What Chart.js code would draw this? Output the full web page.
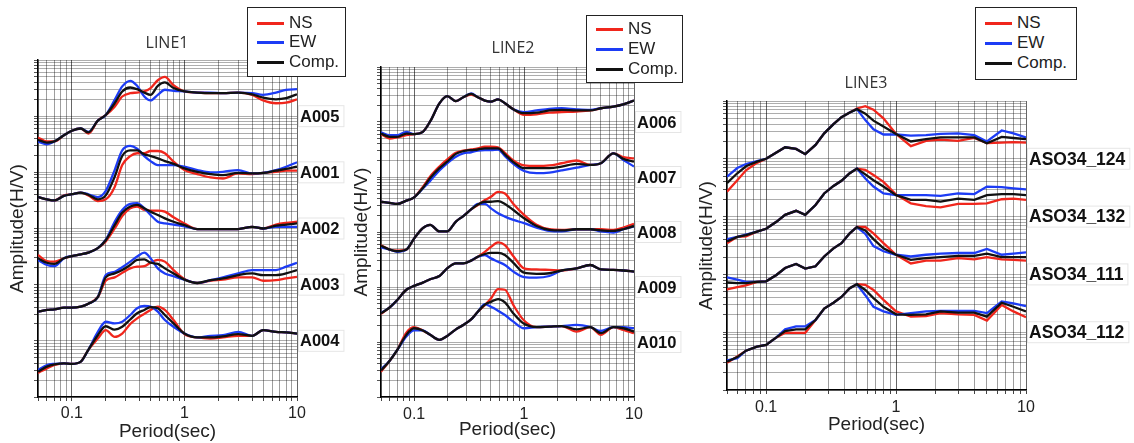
<!DOCTYPE html>
<html>
<head>
<meta charset="utf-8">
<script src="https://cdn.jsdelivr.net/npm/chart.js@4.4.1/dist/chart.umd.min.js"></script>
<style>
  body { margin: 0; background: #fff; width: 1134px; height: 443px; position: relative; overflow: hidden; font-family: "Liberation Sans", Arial, sans-serif; }
  canvas { position: absolute; top: 0; }
  .title { position: absolute; font-family: "Open Sans", sans-serif; font-size: 16px; color: #333; transform: translate(-50%, -50%); white-space: nowrap; }
  .legend { position: absolute; background: #fff; border: 1.5px solid #222; box-sizing: border-box; z-index: 5; }
  .legend .row { position: absolute; left: 0; height: 20px; width: 100%; }
  .legend .ln { position: absolute; left: 9px; top: 9px; width: 27px; height: 3px; }
  .legend .tx { position: absolute; left: 41px; top: 0; font-size: 17px; line-height: 20px; color: #222; }
</style>
</head>
<body>
<canvas id="c1" width="345" height="443" style="left:0px"></canvas>
<canvas id="c2" width="339" height="443" style="left:345px"></canvas>
<canvas id="c3" width="444" height="443" style="left:690px"></canvas>

<div class="title" style="left:167px;top:42px">LINE1</div>
<div class="title" style="left:513px;top:47px">LINE2</div>
<div class="title" style="left:866px;top:82px">LINE3</div>

<div class="legend" style="left:247px;top:7px;width:99px;height:70px">
  <div class="row" style="top:5px"><div class="ln" style="background:#f0261c"></div><div class="tx">NS</div></div>
  <div class="row" style="top:24px"><div class="ln" style="background:#1d3cf5"></div><div class="tx">EW</div></div>
  <div class="row" style="top:44px"><div class="ln" style="background:#111"></div><div class="tx">Comp.</div></div>
</div>
<div class="legend" style="left:586px;top:15px;width:97px;height:68px">
  <div class="row" style="top:3px"><div class="ln" style="background:#f0261c"></div><div class="tx">NS</div></div>
  <div class="row" style="top:23px"><div class="ln" style="background:#1d3cf5"></div><div class="tx">EW</div></div>
  <div class="row" style="top:43px"><div class="ln" style="background:#111"></div><div class="tx">Comp.</div></div>
</div>
<div class="legend" style="left:975px;top:7px;width:102px;height:73px">
  <div class="row" style="top:5px"><div class="ln" style="background:#f0261c"></div><div class="tx">NS</div></div>
  <div class="row" style="top:25px"><div class="ln" style="background:#1d3cf5"></div><div class="tx">EW</div></div>
  <div class="row" style="top:45px"><div class="ln" style="background:#111"></div><div class="tx">Comp.</div></div>
</div>

<script>
const periods = [0.05, 0.06, 0.07, 0.085, 0.1, 0.12, 0.14, 0.17, 0.2, 0.24, 0.28, 0.33, 0.38, 0.44, 0.5, 0.58, 0.67, 0.8, 1, 1.3, 1.7, 2.2, 3, 4, 5, 6.5, 8, 10];

// x grid lines and the ones that get a label
const xGrid = [0.05, 0.06, 0.07, 0.08, 0.09, 0.1, 0.2, 0.3, 0.4, 0.5, 0.6, 0.7, 0.8, 0.9, 1, 2, 3, 4, 5, 6, 7, 8, 9, 10];
const xLabelValues = [0.1, 1, 10];

// log10(H/V) per station, stacked by one decade each

// LINE1
const a005Ns = [0.62,0.55,0.55,0.66,0.74,0.78,0.69,0.92,1.02,1.17,1.35,1.41,1.42,1.44,1.50,1.64,1.70,1.55,1.44,1.42,1.41,1.41,1.42,1.38,1.28,1.23,1.24,1.30];
const a005Ew = [0.55,0.50,0.55,0.66,0.74,0.78,0.72,0.92,1.02,1.29,1.53,1.63,1.54,1.35,1.28,1.38,1.47,1.45,1.44,1.42,1.42,1.41,1.42,1.41,1.38,1.42,1.47,1.48];
const a005Comp = [0.58,0.53,0.55,0.66,0.74,0.78,0.71,0.92,1.02,1.23,1.44,1.51,1.48,1.42,1.38,1.54,1.60,1.50,1.44,1.42,1.41,1.41,1.42,1.39,1.33,1.30,1.32,1.39];

const a001Ns = [0.56,0.52,0.50,0.59,0.61,0.64,0.59,0.49,0.52,0.74,1.13,1.29,1.34,1.34,1.38,1.38,1.34,1.19,1.04,0.97,0.91,0.89,0.98,0.97,0.99,1.01,1.03,1.03];
const a001Ew = [0.56,0.52,0.50,0.58,0.61,0.64,0.61,0.56,0.67,1.04,1.39,1.47,1.42,1.29,1.20,1.13,1.13,1.13,1.10,1.04,1.00,1.01,1.04,0.98,0.99,1.04,1.10,1.18];
const a001Comp = [0.56,0.52,0.50,0.58,0.61,0.64,0.60,0.52,0.59,0.92,1.29,1.39,1.39,1.32,1.29,1.25,1.20,1.15,1.07,1.01,0.97,0.95,0.99,0.98,0.99,1.03,1.06,1.10];

const a002Ns = [0.53,0.42,0.41,0.47,0.51,0.54,0.57,0.65,0.77,1.00,1.22,1.36,1.39,1.33,1.32,1.32,1.30,1.20,1.09,0.99,0.99,0.99,0.99,1.03,1.00,1.07,1.10,1.12];
const a002Ew = [0.44,0.35,0.33,0.47,0.51,0.54,0.57,0.65,0.80,1.12,1.33,1.44,1.45,1.36,1.24,1.12,1.09,1.07,1.04,0.99,0.99,0.99,0.99,1.03,1.00,1.03,1.03,1.03];
const a002Comp = [0.47,0.39,0.37,0.47,0.51,0.54,0.57,0.65,0.79,1.06,1.28,1.39,1.42,1.36,1.30,1.24,1.18,1.12,1.06,0.99,0.99,0.99,0.99,1.03,1.00,1.05,1.07,1.09];

const a003Ns = [0.52,0.55,0.56,0.59,0.59,0.61,0.66,0.78,1.07,1.13,1.21,1.29,1.32,1.33,1.39,1.44,1.41,1.26,1.10,1.03,1.07,1.09,1.13,1.13,1.07,1.08,1.11,1.14];
const a003Ew = [0.52,0.55,0.56,0.59,0.59,0.61,0.66,0.78,1.17,1.23,1.31,1.41,1.50,1.57,1.47,1.29,1.20,1.15,1.09,1.03,1.08,1.13,1.20,1.26,1.26,1.26,1.32,1.39];
const a003Comp = [0.52,0.55,0.56,0.59,0.59,0.61,0.66,0.78,1.13,1.20,1.26,1.35,1.44,1.45,1.39,1.37,1.29,1.20,1.09,1.03,1.08,1.11,1.17,1.20,1.17,1.17,1.20,1.26];

const a004Ns = [0.43,0.51,0.57,0.60,0.59,0.63,0.84,1.04,1.19,1.07,1.13,1.30,1.40,1.48,1.55,1.61,1.55,1.37,1.12,1.06,1.04,1.06,1.09,1.09,1.19,1.16,1.15,1.13];
const a004Ew = [0.48,0.57,0.59,0.60,0.59,0.63,0.84,1.16,1.34,1.31,1.34,1.46,1.58,1.62,1.61,1.52,1.37,1.25,1.13,1.06,1.09,1.10,1.16,1.09,1.19,1.16,1.15,1.13];
const a004Comp = [0.45,0.54,0.58,0.60,0.59,0.63,0.84,1.10,1.26,1.20,1.25,1.38,1.49,1.55,1.60,1.58,1.46,1.31,1.13,1.06,1.06,1.08,1.12,1.09,1.19,1.16,1.15,1.13];

// LINE2
const a006Ns = [0.78,0.70,0.72,0.76,0.78,0.82,1.01,1.34,1.47,1.38,1.45,1.50,1.45,1.39,1.37,1.41,1.34,1.23,1.13,1.14,1.17,1.18,1.19,1.21,1.25,1.28,1.32,1.39];
const a006Ew = [0.81,0.76,0.76,0.82,0.78,0.82,1.01,1.34,1.47,1.38,1.45,1.52,1.45,1.39,1.37,1.41,1.34,1.23,1.18,1.21,1.24,1.25,1.23,1.22,1.25,1.28,1.32,1.39];
const a006Comp = [0.79,0.73,0.73,0.79,0.78,0.82,1.01,1.34,1.47,1.38,1.45,1.51,1.45,1.39,1.37,1.41,1.34,1.23,1.16,1.17,1.21,1.22,1.21,1.21,1.25,1.28,1.32,1.39];

const a007Ns = [0.55,0.53,0.51,0.57,0.63,0.82,1.01,1.19,1.32,1.44,1.48,1.50,1.52,1.55,1.55,1.54,1.44,1.30,1.21,1.20,1.21,1.25,1.30,1.22,1.25,1.43,1.36,1.34];
const a007Ew = [0.55,0.53,0.51,0.57,0.63,0.79,0.93,1.12,1.25,1.37,1.43,1.45,1.48,1.49,1.49,1.50,1.38,1.24,1.11,1.07,1.08,1.12,1.17,1.22,1.25,1.43,1.31,1.19];
const a007Comp = [0.55,0.53,0.51,0.57,0.63,0.80,0.98,1.16,1.28,1.42,1.47,1.49,1.50,1.52,1.52,1.52,1.41,1.27,1.16,1.16,1.16,1.19,1.24,1.22,1.25,1.43,1.33,1.28];

const a008Ns = [0.76,0.68,0.66,0.68,0.88,1.07,1.13,1.01,1.01,1.19,1.29,1.41,1.49,1.58,1.64,1.73,1.70,1.51,1.31,1.13,1.05,1.04,1.05,1.05,1.05,1.04,1.08,1.15];
const a008Ew = [0.72,0.68,0.64,0.68,0.88,1.07,1.13,1.01,1.01,1.19,1.29,1.41,1.51,1.51,1.43,1.34,1.28,1.22,1.16,1.08,1.02,1.01,1.05,1.05,1.01,0.99,1.05,1.10];
const a008Comp = [0.75,0.68,0.65,0.68,0.88,1.07,1.13,1.01,1.01,1.19,1.29,1.41,1.50,1.55,1.55,1.56,1.51,1.40,1.25,1.11,1.04,1.03,1.05,1.05,1.03,1.02,1.05,1.11];

const a009Ns = [0.51,0.63,0.76,0.95,1.02,1.08,1.14,1.20,1.34,1.43,1.43,1.48,1.55,1.64,1.73,1.81,1.76,1.56,1.34,1.32,1.31,1.30,1.34,1.40,1.32,1.31,1.30,1.28];
const a009Ew = [0.53,0.63,0.76,0.95,1.02,1.08,1.14,1.20,1.34,1.43,1.43,1.48,1.55,1.58,1.52,1.46,1.40,1.28,1.18,1.17,1.20,1.30,1.34,1.40,1.32,1.31,1.30,1.28];
const a009Comp = [0.52,0.63,0.76,0.95,1.02,1.08,1.14,1.20,1.34,1.43,1.43,1.48,1.55,1.60,1.62,1.62,1.58,1.44,1.26,1.24,1.25,1.30,1.34,1.40,1.32,1.31,1.30,1.28];

const a010Ns = [0.46,0.66,0.85,1.17,1.27,1.21,1.13,1.04,1.11,1.23,1.31,1.41,1.55,1.67,1.79,1.96,1.95,1.67,1.39,1.27,1.28,1.29,1.19,1.27,1.13,1.27,1.22,1.16];
const a010Ew = [0.50,0.66,0.85,1.10,1.21,1.21,1.13,1.04,1.11,1.23,1.31,1.41,1.55,1.69,1.64,1.57,1.49,1.37,1.25,1.27,1.28,1.29,1.31,1.27,1.20,1.27,1.27,1.25];
const a010Comp = [0.48,0.66,0.85,1.13,1.25,1.21,1.13,1.04,1.11,1.23,1.31,1.41,1.55,1.68,1.73,1.78,1.72,1.52,1.33,1.27,1.28,1.29,1.23,1.27,1.16,1.27,1.25,1.19];

// LINE3
const aso124Ns = [0.43,0.63,0.80,0.93,1.00,1.11,1.20,1.17,1.08,1.24,1.44,1.60,1.72,1.80,1.87,1.91,1.85,1.70,1.43,1.22,1.31,1.33,1.31,1.36,1.27,1.28,1.29,1.28];
const aso124Ew = [0.69,0.84,0.91,0.96,1.00,1.11,1.20,1.17,1.08,1.24,1.44,1.60,1.72,1.80,1.86,1.67,1.51,1.42,1.42,1.40,1.41,1.43,1.44,1.41,1.30,1.49,1.44,1.37];
const aso124Comp = [0.58,0.75,0.87,0.95,1.00,1.11,1.20,1.17,1.08,1.24,1.44,1.60,1.72,1.80,1.86,1.78,1.66,1.56,1.43,1.30,1.34,1.37,1.37,1.37,1.27,1.38,1.36,1.34];

const aso132Ns = [0.54,0.65,0.66,0.74,0.79,0.91,1.03,1.10,1.03,1.20,1.40,1.53,1.62,1.75,1.83,1.81,1.72,1.60,1.38,1.23,1.18,1.16,1.22,1.22,1.23,1.30,1.31,1.29];
const aso132Ew = [0.61,0.65,0.69,0.74,0.79,0.91,1.03,1.10,1.03,1.20,1.40,1.53,1.62,1.75,1.83,1.66,1.52,1.40,1.37,1.37,1.37,1.36,1.40,1.39,1.52,1.51,1.49,1.47];
const aso132Comp = [0.57,0.65,0.68,0.74,0.79,0.91,1.03,1.10,1.03,1.20,1.40,1.53,1.62,1.75,1.83,1.73,1.63,1.52,1.37,1.29,1.29,1.26,1.31,1.29,1.37,1.39,1.39,1.37];

const aso111Ns = [0.74,0.78,0.81,0.87,0.88,0.99,1.11,1.18,1.10,1.14,1.31,1.45,1.54,1.71,1.82,1.82,1.71,1.54,1.34,1.19,1.24,1.24,1.28,1.26,1.30,1.26,1.25,1.24];
const aso111Ew = [0.95,0.91,0.87,0.87,0.88,0.99,1.11,1.18,1.10,1.14,1.31,1.45,1.54,1.71,1.82,1.70,1.49,1.40,1.34,1.31,1.34,1.36,1.37,1.37,1.44,1.34,1.36,1.38];
const aso111Comp = [0.86,0.85,0.85,0.87,0.88,0.99,1.11,1.18,1.10,1.14,1.31,1.45,1.54,1.71,1.82,1.76,1.61,1.45,1.34,1.25,1.28,1.30,1.32,1.32,1.36,1.30,1.30,1.30];

const aso112Ns = [0.47,0.58,0.68,0.75,0.78,0.91,0.99,0.99,0.99,1.21,1.41,1.51,1.61,1.76,1.83,1.82,1.73,1.56,1.36,1.27,1.28,1.33,1.31,1.30,1.20,1.47,1.36,1.26];
const aso112Ew = [0.51,0.55,0.68,0.75,0.78,0.91,1.05,1.10,1.10,1.21,1.41,1.51,1.61,1.76,1.83,1.64,1.44,1.36,1.30,1.33,1.36,1.37,1.37,1.37,1.33,1.53,1.50,1.45];
const aso112Comp = [0.49,0.57,0.68,0.75,0.78,0.91,1.02,1.05,1.05,1.21,1.41,1.51,1.61,1.76,1.83,1.73,1.59,1.44,1.31,1.30,1.31,1.36,1.34,1.34,1.27,1.51,1.44,1.36];

// station names and decade shift (top to bottom)
const line1Names = ['A005', 'A001', 'A002', 'A003', 'A004'];
const line1Shift = [4, 3, 2, 1, 0];
const line2Names = ['A006', 'A007', 'A008', 'A009', 'A010'];
const line2Shift = [4, 3, 2, 1, 0];
const line3Names = ['ASO34_124', 'ASO34_132', 'ASO34_111', 'ASO34_112'];
const line3Shift = [3, 2, 1, 0];

const colors = { ns: '#f0261c', ew: '#1d3cf5', comp: '#111111' };

function buildDatasets(names, shifts, ns, ew, comp) {
  const sets = [];
  names.forEach((name, k) => {
    const parts = [
      [ns[k], 'NS', colors.ns, 2],
      [ew[k], 'EW', colors.ew, 1],
      [comp[k], 'Comp.', colors.comp, 0]
    ];
    parts.forEach(([arr, comp, color, order]) => {
      sets.push({
        label: name + ' ' + comp,
        data: periods.map((p, i) => ({ x: p, y: shifts[k] + arr[i] })),
        borderColor: color,
        backgroundColor: color,
        order: order
      });
    });
  });
  return sets;
}

// draws the station names at the right end of each curve
const stationLabels = {
  id: 'stationLabels',
  afterDraw(chart, args, opts) {
    const { ctx, chartArea, scales } = chart;
    ctx.save();
    ctx.font = 'bold ' + opts.size + 'px "Liberation Sans", Arial, sans-serif';
    ctx.textBaseline = 'middle';
    opts.names.forEach((name, i) => {
      const py = scales.y.getPixelForValue(opts.shifts[i] + 1);
      const w = ctx.measureText(name).width + 6;
      ctx.fillStyle = '#fff';
      ctx.fillRect(chartArea.right + 1, py - 11, w, 22);
      ctx.strokeStyle = 'rgba(0,0,0,0.1)';
      ctx.lineWidth = 1;
      ctx.strokeRect(chartArea.right + 1.5, py - 10.5, w, 21);
      ctx.fillStyle = '#111';
      ctx.fillText(name, chartArea.right + 3, py + 1);
    });
    ctx.restore();
  }
};

function isDecade(v) {
  const l = Math.log10(v);
  return Math.abs(l - Math.round(l)) < 1e-6;
}

function makeChart(id, cfg) {
  const tickFont = { family: '"Liberation Sans", Arial, sans-serif', size: 16 };
  const titleFont = { family: '"Liberation Sans", Arial, sans-serif', size: 19 };
  return new Chart(document.getElementById(id), {
    type: 'line',
    data: { datasets: buildDatasets(cfg.names, cfg.shifts, cfg.ns, cfg.ew, cfg.comp) },
    options: {
      responsive: false,
      animation: false,
      events: [],
      devicePixelRatio: 1,
      layout: { padding: { left: 0, top: cfg.top, right: cfg.right, bottom: 0 } },
      elements: {
        point: { radius: 0 },
        line: { borderWidth: 2.3, tension: cfg.tension, cubicInterpolationMode: cfg.mode, fill: false }
      },
      plugins: {
        legend: { display: false },
        tooltip: { enabled: false },
        stationLabels: { names: cfg.names, shifts: cfg.shifts, size: cfg.labelSize }
      },
      scales: {
        x: {
          type: 'logarithmic',
          min: 0.05,
          max: 10,
          afterBuildTicks: s => { s.ticks = xGrid.map(v => ({ value: v })); },
          afterFit: s => { s.height = cfg.xh; },
          grid: {
            color: c => (c.tick && isDecade(c.tick.value)) ? 'rgba(0,0,0,0.6)' : 'rgba(0,0,0,0.38)',
            lineWidth: 1,
            drawTicks: true,
            tickLength: 4,
            tickColor: '#444'
          },
          border: { display: true, color: '#000', width: 1.5 },
          ticks: {
            autoSkip: false,
            maxRotation: 0,
            padding: cfg.tickPad,
            color: '#222',
            font: tickFont,
            callback: v => xLabelValues.some(t => Math.abs(t - v) < 1e-9) ? String(v) : ''
          },
          title: { display: true, text: 'Period(sec)', color: '#222', font: titleFont, padding: { top: 0, bottom: cfg.xTitlePad } }
        },
        y: {
          type: 'linear',
          min: 0,
          max: cfg.decades,
          afterBuildTicks: s => {
            const t = [];
            for (let n = 0; n < cfg.decades; n++) {
              for (let m = 1; m < 10; m++) t.push({ value: n + Math.log10(m) });
            }
            t.push({ value: cfg.decades });
            s.ticks = t;
          },
          afterFit: s => { s.width = cfg.yw; },
          grid: { color: 'rgba(0,0,0,0.32)', lineWidth: 1, drawTicks: true, tickLength: 4, tickColor: '#555' },
          border: { display: true, color: '#000', width: 1.5 },
          ticks: { display: false, autoSkip: false },
          title: { display: true, text: 'Amplitude(H/V)', color: '#222', font: titleFont, padding: { top: cfg.yTitlePad, bottom: 0 } }
        }
      }
    },
    plugins: [stationLabels]
  });
}

makeChart('c1', {
  names: line1Names, shifts: line1Shift,
  ns: [a005Ns, a001Ns, a002Ns, a003Ns, a004Ns],
  ew: [a005Ew, a001Ew, a002Ew, a003Ew, a004Ew],
  comp: [a005Comp, a001Comp, a002Comp, a003Comp, a004Comp],
  top: 60, right: 48, yw: 38, xh: 46, decades: 6,
  tickPad: 3.4, xTitlePad: 0, yTitlePad: 6.6, labelSize: 16.5,
  tension: 0.4, mode: 'monotone'
});

makeChart('c2', {
  names: line2Names, shifts: line2Shift,
  ns: [a006Ns, a007Ns, a008Ns, a009Ns, a010Ns],
  ew: [a006Ew, a007Ew, a008Ew, a009Ew, a010Ew],
  comp: [a006Comp, a007Comp, a008Comp, a009Comp, a010Comp],
  top: 67, right: 50, yw: 36, xh: 46, decades: 6,
  tickPad: 4.1, xTitlePad: 1.6, yTitlePad: 5.6, labelSize: 16.5,
  tension: 0.4, mode: 'monotone'
});

makeChart('c3', {
  names: line3Names, shifts: line3Shift,
  ns: [aso124Ns, aso132Ns, aso111Ns, aso112Ns],
  ew: [aso124Ew, aso132Ew, aso111Ew, aso112Ew],
  comp: [aso124Comp, aso132Comp, aso111Comp, aso112Comp],
  top: 101, right: 108, yw: 37, xh: 53, decades: 5,
  tickPad: 4.4, xTitlePad: 6.6, yTitlePad: 5.6, labelSize: 17.5,
  tension: 0, mode: 'default'
});
</script>
</body>
</html>
